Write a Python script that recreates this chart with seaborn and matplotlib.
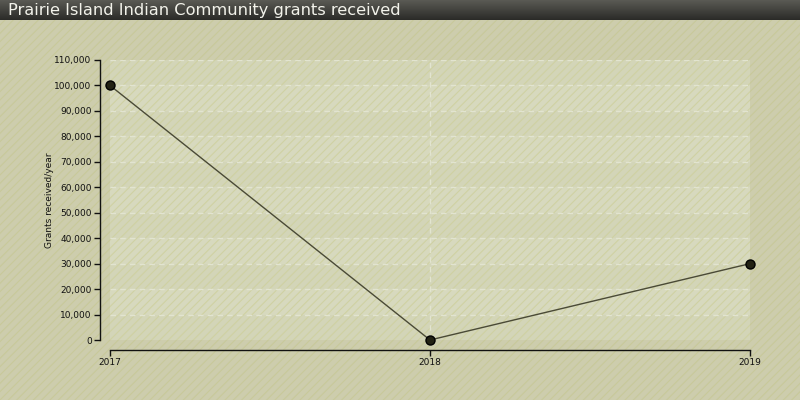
import matplotlib
matplotlib.use("Agg")
import matplotlib.pyplot as plt
import seaborn as sns
import pandas as pd
import numpy as np
from matplotlib.patches import Rectangle
from matplotlib.ticker import FuncFormatter
from matplotlib.colors import LinearSegmentedColormap

years = [2017, 2018, 2019]
grants = [100000, 0, 30000]
title = "Prairie Island Indian Community grants received"
ylabel = "Grants received/year"

sns.set_theme(style="white")
plt.rcParams['font.family'] = ['DejaVu Sans']
plt.rcParams['hatch.linewidth'] = 0.8

df = pd.DataFrame({"year": years, "grants": grants})

fig = plt.figure(figsize=(8, 4), dpi=100)
fig.patch.set_facecolor("#cdcdad")
bg = Rectangle((0, 0), 1, 1, transform=fig.transFigure, facecolor="#cdcdad",
               edgecolor="#c8c99a", hatch="////", linewidth=0, zorder=-10)
fig.patches.append(bg)

# title bar with gradient
tax = fig.add_axes([0, 1 - 20/400, 1, 20/400])
grad = np.linspace(0, 1, 50).reshape(-1, 1)
cmap = LinearSegmentedColormap.from_list("tb", ["#5a5a54", "#2b2b28"])
tax.imshow(grad, aspect="auto", cmap=cmap, extent=[0, 1, 0, 1], origin="upper")
tax.set_axis_off()
tax.text(8/800, 0.5, title, color="#f2f2ea", fontsize=11.7, va="center", ha="left",
         transform=tax.transAxes)

ax = fig.add_axes([110/800, 60/400, 640/800, 280/400])
ax.set_facecolor("none")
ax.set_xlim(2017, 2019)
ax.set_ylim(0, 110000)

for i, y0 in enumerate(range(0, 110000, 10000)):
    col = "#d3d5b8" if i % 2 == 0 else "#d7d9be"
    ax.axhspan(y0, y0 + 10000, facecolor=col, edgecolor="#cfd1a2", hatch="////",
               linewidth=0, zorder=0)
for y in range(10000, 110001, 10000):
    ax.axhline(y, color="#e2e4d0", lw=1, ls=(0, (4, 3)), zorder=1)
ax.axvline(2018, color="#e2e4d0", lw=1, ls=(0, (4, 3)), zorder=1)

sns.lineplot(data=df, x="year", y="grants", ax=ax, color="#4a4a36", lw=1,
             marker="o", markersize=6.5, markerfacecolor="#222214",
             markeredgecolor="#000000", markeredgewidth=1, zorder=3, clip_on=False)

ax.set_xticks(years)
ax.set_xticklabels([str(y) for y in years])
ax.set_yticks(range(0, 110001, 10000))
ax.yaxis.set_major_formatter(FuncFormatter(lambda v, p: f"{int(v):,}"))
ax.tick_params(axis="both", labelsize=6.5, colors="#111111", length=4, width=1,
               direction="out", pad=2, left=True, bottom=True)
ax.set_xlabel("")
ax.set_ylabel(ylabel, fontsize=6.5, color="#111111", labelpad=0)

for s in ["top", "right"]:
    ax.spines[s].set_visible(False)
for s in ["left", "bottom"]:
    ax.spines[s].set_position(("outward", 7.2))
    ax.spines[s].set_color("#111111")
    ax.spines[s].set_linewidth(1)
ax.spines["left"].set_bounds(0, 110000)
ax.spines["bottom"].set_bounds(2017, 2019)

fig.savefig("out.png", dpi=100)
